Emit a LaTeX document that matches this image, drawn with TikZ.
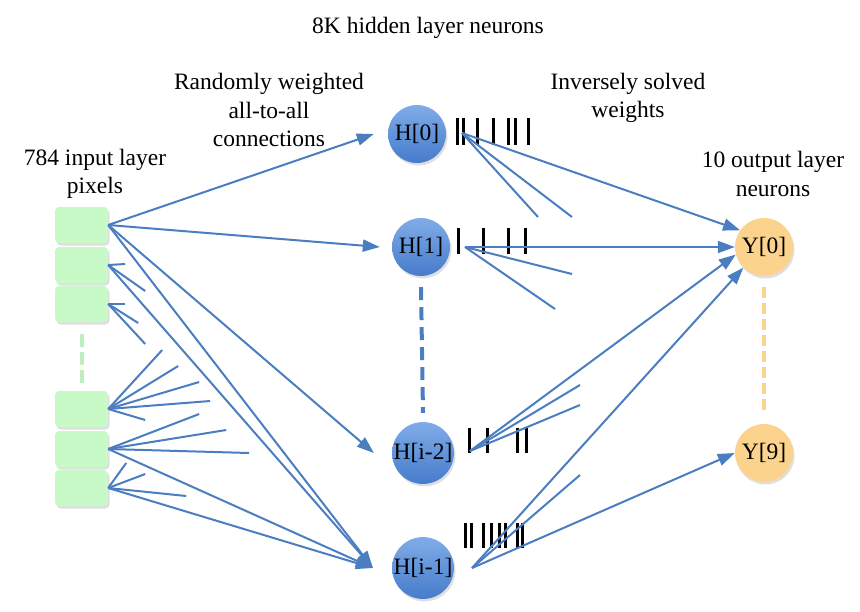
\documentclass[tikz,border=0pt]{standalone}
\usepackage{fontspec}
\setmainfont{Liberation Serif}
\usetikzlibrary{arrows.meta,shadows}

\definecolor{linkblue}{RGB}{74,126,193}
\definecolor{pixgreen}{RGB}{200,250,200}
\definecolor{dashgreen}{RGB}{190,238,190}
\definecolor{hidtop}{RGB}{128,172,232}
\definecolor{hidbot}{RGB}{70,124,204}
\definecolor{outorange}{RGB}{252,211,140}

\begin{document}
\begin{tikzpicture}[x=1pt,y=-1pt,
    font=\fontsize{23.5}{28.5}\selectfont,
    softshadow/.style={drop shadow={opacity=0.25,shadow xshift=1.5pt,shadow yshift=-2.5pt}},
    pixel/.style={rectangle, rounded corners=4pt, fill=pixgreen, minimum width=53pt, minimum height=36pt, softshadow},
    neuron/.style={circle, minimum size=58pt, inner sep=0pt, top color=hidtop, bottom color=hidbot, softshadow},
    outneuron/.style={circle, minimum size=58pt, inner sep=0pt, fill=outorange, softshadow},
    caption/.style={align=center},
    link/.style={draw=linkblue, line width=2pt},
    arr/.style={link, -{Triangle[length=17pt,width=12pt]}},
    weighttick/.style={line width=3pt, black}]
        \useasboundingbox (0,0) rectangle (860,611);
        % captions
        \node[caption] (title) at (428,28) {8K hidden layer neurons};
        \node[caption] (randcap) at (269,110) {Randomly weighted\\all-to-all\\connections};
        \node[caption] (invcap) at (628,98) {Inversely solved\\weights};
        \node[caption] (incap) at (95,174) {784 input layer\\pixels};
        \node[caption] (outcap) at (773,174) {10 output layer\\neurons};
        % input pixels
        \foreach \y [count=\i] in {225,265,304,409,449,488}
            \node[pixel] (in\i) at (81.5,\y) {};
        \draw[dashgreen, line width=4pt, dash pattern=on 13pt off 5pt]
            ([yshift=-12pt]in3.south) -- ([yshift=4pt]in4.north);
        % hidden neurons
        \node[neuron] (h0) at (417,134) {H[0]};
        \node[neuron] (h1) at (421,247) {H[1]};
        \node[neuron] (h2) at (423,453) {H[i-2]};
        \node[neuron] (h3) at (423,568) {H[i-1]};
        \draw[linkblue, line width=4pt, dash pattern=on 13pt off 7pt]
            ([yshift=-11pt]h1.south) -- ([yshift=9pt]h2.north);
        % output neurons
        \node[outneuron] (y0) at (764,247) {Y[0]};
        \node[outneuron] (y9) at (764,453) {Y[9]};
        \draw[outorange, line width=4pt, dash pattern=on 11pt off 5pt]
            ([yshift=-11pt]y0.south) -- ([yshift=9pt]y9.north);
        % arrow tips in front of the hidden neurons
        \foreach \n/\d in {h0/14,h1/12,h2/18,h3/19}
            \coordinate (\n t) at ([xshift=-\d pt]\n.west);
        % fan-out points of the hidden neurons
        \coordinate (h0o) at ([shift={(45,-1)}]h0.center);
        \coordinate (h1o) at ([shift={(44,0)}]h1.center);
        \coordinate (h2o) at ([shift={(47,-2)}]h2.center);
        \coordinate (h3o) at ([shift={(49,0)}]h3.center);
        % random connections
        \draw[arr] (in1.east) -- (h0t);
        \draw[arr] (in1.east) -- (h1t);
        \draw[arr] (in1.east) -- (h2t);
        \draw[arr] (in1.east) -- (h3t);
        \draw[arr] (in2.east) -- (h3t);
        \draw[arr] (in5.east) -- (h3t);
        \draw[arr] (in6.east) -- (h3t);
        \foreach \d in {(17,-1),(37,26)} \draw[link] (in2.east) -- ++\d;
        \foreach \d in {(17,0),(30,19),(37,40)} \draw[link] (in3.east) -- ++\d;
        \foreach \d in {(54,-59),(70,-43),(91,-27),(102,-8),(37,11)} \draw[link] (in4.east) -- ++\d;
        \foreach \d in {(91,-35),(118,-19),(141,4)} \draw[link] (in5.east) -- ++\d;
        \foreach \d in {(18,-25),(37,-14),(78,8)} \draw[link] (in6.east) -- ++\d;
        % solved weights
        \foreach \x in {457,463,477,493,508,515,528} \draw[weighttick] (\x,118) -- (\x,145);
        \foreach \x in {458,483,508,525} \draw[weighttick] (\x,228) -- (\x,254);
        \foreach \x in {469,487,517,526} \draw[weighttick] (\x,428) -- (\x,453);
        \foreach \x in {465,471,483,491,499,505,517,522} \draw[weighttick] (\x,523) -- (\x,548);
        \foreach \d in {(76,84),(110,84)} \draw[link] (h0o) -- ++\d;
        \foreach \d in {(107,27),(90,62)} \draw[link] (h1o) -- ++\d;
        \foreach \d in {(110,-66),(110,-46)} \draw[link] (h2o) -- ++\d;
        \draw[link] (h3o) -- ++(108,-93);
        \draw[arr] (h0o) -- (y0.145);
        \draw[arr] (h1o) -- (y0.west);
        \draw[arr] (h2o) -- (y0.195);
        \draw[arr] (h3o) -- (y0.225);
        \draw[arr] (h3o) -- (y9.west);
\end{tikzpicture}
\end{document}
